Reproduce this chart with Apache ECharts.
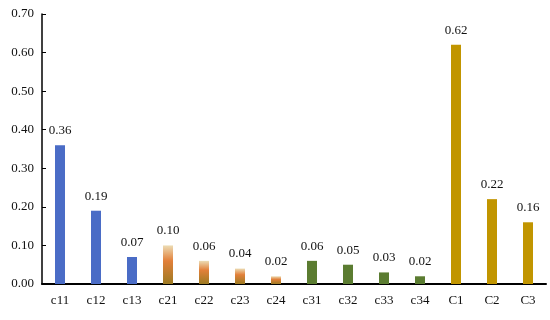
<!DOCTYPE html>
<html>
<head>
<meta charset="utf-8">
<script src="https://cdn.jsdelivr.net/npm/echarts@6/dist/echarts.min.js"></script>
<style>
html,body{margin:0;padding:0;background:#fff;}
#main{width:550px;height:320px;}
</style>
</head>
<body>
<div id="main"></div>
<script>
//类别
var categories = ["c11","c12","c13","c21","c22","c23","c24","c31","c32","c33","c34","C1","C2","C3"];
//数值
var values = [0.36,0.19,0.07,0.10,0.06,0.04,0.02,0.06,0.05,0.03,0.02,0.62,0.22,0.16];
//分组 (0 蓝, 1 橙渐变, 2 绿, 3 金)
var groups = [0,0,0,1,1,1,1,2,2,2,2,3,3,3];

var orangeGrad = {
	type: 'linear', x: 0, y: 0, x2: 0, y2: 1,
	colorStops: [
		{offset: 0, color: '#ecdcb4'},
		{offset: 0.4, color: '#e2803a'},
		{offset: 1, color: '#9c7a22'}
	]
};
var groupColors = ['#4a6cc6', orangeGrad, '#5b7c31', '#c19500'];

var font = '"Liberation Serif", "DejaVu Serif", serif';
var dom = document.getElementById("main");
var myChart = echarts.init(dom);

var barData = [];
for (var i = 0; i < values.length; i++) {
	barData.push({value: values[i], itemStyle: {color: groupColors[groups[i]]}});
}

var option = {
	animation: false,
	grid: {left: 42, right: 4, top: 14, bottom: 36},
	xAxis: {
		type: 'category',
		data: categories,
		axisLine: {lineStyle: {color: '#000', width: 2}},
		axisTick: {show: false},
		axisLabel: {color: '#111', fontFamily: font, fontSize: 13, margin: 10}
	},
	yAxis: {
		type: 'value',
		min: 0,
		max: 0.7,
		interval: 0.1,
		axisLine: {show: true, lineStyle: {color: '#000', width: 1.5}},
		axisTick: {show: true, inside: true, length: 4, lineStyle: {color: '#000'}},
		splitLine: {show: false},
		axisLabel: {
			color: '#111', fontFamily: font, fontSize: 13, margin: 8,
			formatter: function(v){ return v.toFixed(2); }
		}
	},
	series: [{
		type: 'bar',
		data: barData,
		barWidth: 10,
		label: {
			show: true,
			position: 'top',
			distance: 8,
			color: '#111',
			fontFamily: font,
			fontSize: 13,
			formatter: function(p){ return p.value.toFixed(2); }
		}
	}]
};
myChart.setOption(option, true);
</script>
</body>
</html>
